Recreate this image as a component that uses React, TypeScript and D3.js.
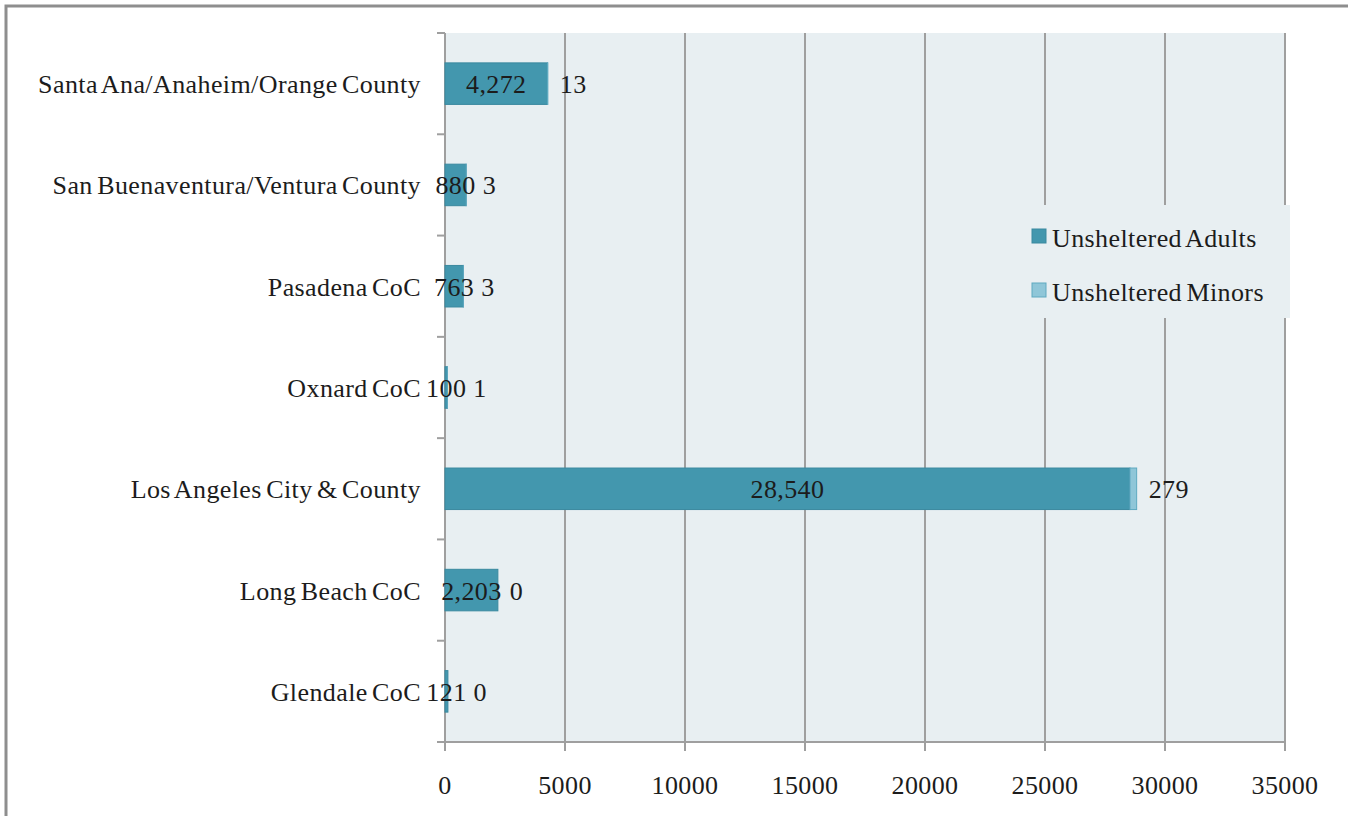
import React from "react";
import * as d3 from "d3";

const categories = [
  "Santa Ana/Anaheim/Orange County",
  "San Buenaventura/Ventura County",
  "Pasadena CoC",
  "Oxnard CoC",
  "Los Angeles City & County",
  "Long Beach CoC",
  "Glendale CoC",
];
const adults = [4272, 880, 763, 100, 28540, 2203, 121];
const minors = [13, 3, 3, 1, 279, 0, 0];
const adultLabels = ["4,272", "880", "763", "100", "28,540", "2,203", "121"];
const minorLabels = ["13", "3", "3", "1", "279", "0", "0"];
const xTicks = [0, 5000, 10000, 15000, 20000, 25000, 30000, 35000];
const seriesNames = ["Unsheltered Adults", "Unsheltered Minors"];

const W = 1348;
const H = 816;
const FONT = "'Liberation Serif', 'Times New Roman', serif";
const FS = 26;
const LS = 0.4;
const WS = -2.5;
const TEXT = "#1c1c1c";
const C_ADULT = "#4397ae";
const C_ADULT_STROKE = "#3a899f";
const C_MINOR = "#8fc6d8";
const C_MINOR_STROKE = "#5ea9c0";
const BG = "#e8eff2";
const GRID = "#9f9f9f";

const plot = { left: 445, right: 1285, top: 33, bottom: 742 };

function textW(s: string) {
  let w = 0;
  for (const ch of s) w += (ch === "," ? 0.25 : 0.5) * FS + LS;
  return w;
}

export default function App() {
  const x = d3.scaleLinear().domain([0, 35000]).range([plot.left, plot.right]);
  const y = d3
    .scaleBand<string>()
    .domain(categories)
    .range([plot.top, plot.bottom])
    .paddingInner(0.59)
    .paddingOuter(0.295);
  const band = (plot.bottom - plot.top) / categories.length;
  const boundaries = d3.range(categories.length + 1).map((i) => plot.top + i * band);

  return (
    <svg
      width={W}
      height={H}
      style={{ position: "absolute", left: 0, top: 0, background: "#fff", wordSpacing: WS }}
      fontFamily={FONT}
      letterSpacing={LS}
    >
      <rect x={0} y={0} width={W} height={H} fill="#fff" />
      <rect x={6} y={6} width={W + 20} height={H + 20} fill="none" stroke="#8e8e8e" strokeWidth={3} />
      <rect
        x={plot.left}
        y={plot.top}
        width={plot.right - plot.left}
        height={plot.bottom - plot.top}
        fill={BG}
      />
      {xTicks.slice(1).map((t) => (
        <line key={"g" + t} x1={x(t)} x2={x(t)} y1={plot.top} y2={plot.bottom} stroke={GRID} strokeWidth={2} />
      ))}
      <line x1={plot.left} x2={plot.left} y1={plot.top} y2={plot.bottom} stroke={GRID} strokeWidth={2} />
      {boundaries.map((b, i) => (
        <line key={"yt" + i} x1={plot.left - 8} x2={plot.left} y1={b} y2={b} stroke={GRID} strokeWidth={2} />
      ))}
      <line x1={plot.left - 8} x2={plot.right} y1={plot.bottom} y2={plot.bottom} stroke={GRID} strokeWidth={2} />
      {xTicks.map((t) => (
        <line key={"xt" + t} x1={x(t)} x2={x(t)} y1={plot.bottom} y2={plot.bottom + 9} stroke={GRID} strokeWidth={2} />
      ))}
      {xTicks.map((t) => (
        <text key={"xl" + t} x={x(t)} y={785} textAnchor="middle" dominantBaseline="central" fontSize={FS} fill={TEXT}>
          {String(t)}
        </text>
      ))}
      {categories.map((c) => (
        <text
          key={"cl" + c}
          x={421}
          y={(y(c) ?? 0) + y.bandwidth() / 2 + 1}
          textAnchor="end"
          dominantBaseline="central"
          fontSize={FS}
          fill={TEXT}
        >
          {c}
        </text>
      ))}
      {categories.map((c, i) => {
        const yy = y(c) ?? 0;
        const x0 = x(0);
        const x1 = x(adults[i]);
        const x2 = x(adults[i] + minors[i]);
        return (
          <g key={"b" + c}>
            <rect x={x0} y={yy} width={x1 - x0} height={y.bandwidth()} fill={C_ADULT} stroke={C_ADULT_STROKE} strokeWidth={1} />
            {minors[i] > 0 && (
              <rect x={x1} y={yy} width={x2 - x1} height={y.bandwidth()} fill={C_MINOR} stroke={C_MINOR_STROKE} strokeWidth={1} />
            )}
          </g>
        );
      })}
      {categories.map((c, i) => {
        const cy = (y(c) ?? 0) + y.bandwidth() / 2 + 1;
        const cx = (x(0) + x(adults[i])) / 2;
        const adultRight = cx + textW(adultLabels[i]) / 2;
        const end = x(adults[i] + minors[i]);
        const mx = Math.max(end + 12, adultRight + 7);
        return (
          <g key={"dl" + c}>
            <text x={cx} y={cy} textAnchor="middle" dominantBaseline="central" fontSize={FS} fill={TEXT}>
              {adultLabels[i]}
            </text>
            <text x={mx} y={cy} textAnchor="start" dominantBaseline="central" fontSize={FS} fill={TEXT}>
              {minorLabels[i]}
            </text>
          </g>
        );
      })}
      <rect x={1018} y={205} width={272} height={113} fill={BG} />
      {seriesNames.map((s, i) => {
        const cy = 237 + i * 54;
        return (
          <g key={"lg" + s}>
            <rect
              x={1032}
              y={cy - 8}
              width={14}
              height={14}
              fill={i === 0 ? C_ADULT : C_MINOR}
              stroke={i === 0 ? C_ADULT_STROKE : C_MINOR_STROKE}
              strokeWidth={1}
            />
            <text x={1052} y={cy + 1} dominantBaseline="central" fontSize={FS} fill={TEXT}>
              {s}
            </text>
          </g>
        );
      })}
    </svg>
  );
}
